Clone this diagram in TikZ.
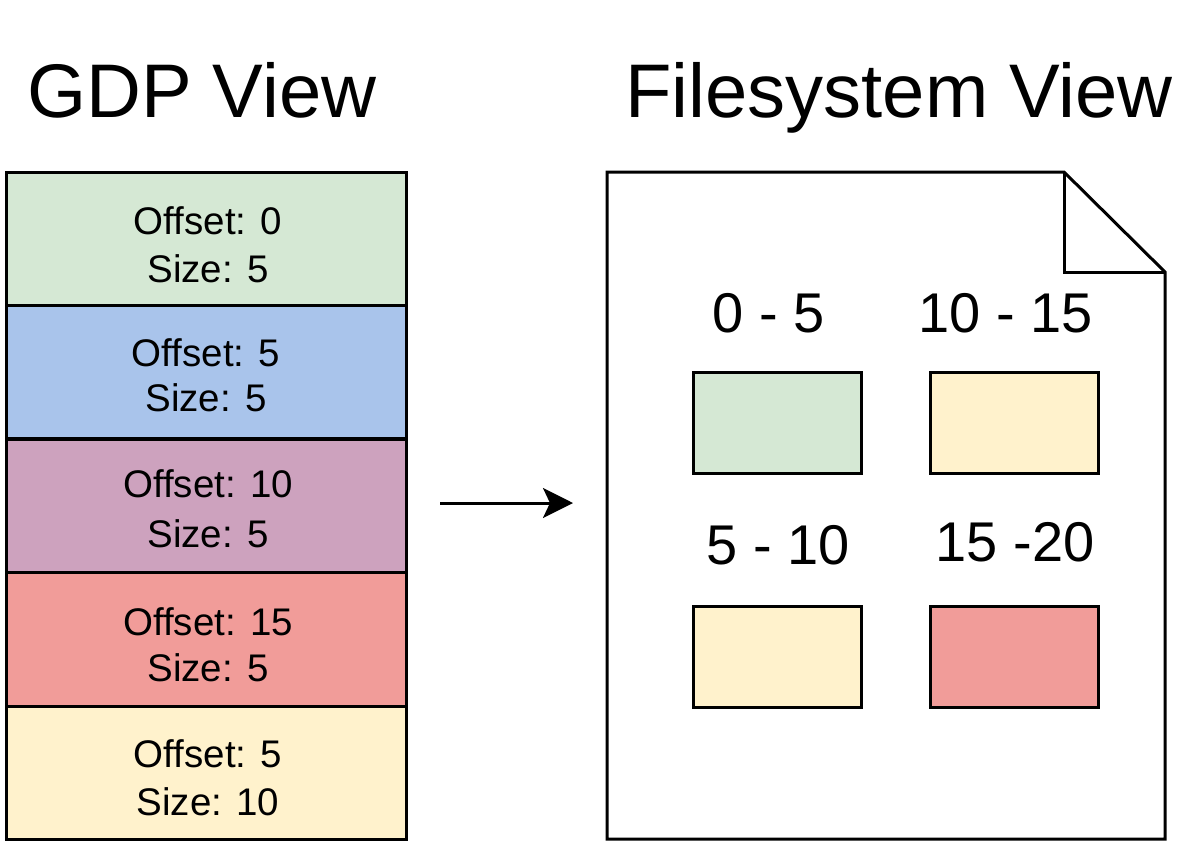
\documentclass[tikz,border=0pt]{standalone}
\usepackage{fontspec}
\setmainfont{Liberation Sans}
\usetikzlibrary{arrows.meta}
\definecolor{cgreen}{HTML}{D5E8D4}
\definecolor{cblue}{HTML}{A9C4EB}
\definecolor{cpurple}{HTML}{CDA2BE}
\definecolor{cred}{HTML}{F19C99}
\definecolor{cyellow}{HTML}{FFF2CC}
\tikzset{
  gdpbox/.style={draw=black, line width=3pt, minimum width=400pt, minimum height=133.5pt, inner sep=0pt, rectangle},
  gdptext/.style={align=center, inner sep=0pt, font=\fontsize{38.5}{48}\selectfont},
  chunk/.style={draw=black, line width=3pt, minimum width=168pt, minimum height=101pt, inner sep=0pt, rectangle},
  rangelabel/.style={inner sep=0pt, font=\fontsize{56}{66}\selectfont},
  title/.style={inner sep=0pt, anchor=base west, font=\fontsize{76}{90}\selectfont},
  docline/.style={draw=black, line width=3pt, line join=miter},
  flow/.style={draw=black, line width=3pt, -{Stealth[length=30pt, width=30pt, inset=7pt]}}
}
\begin{document}
\begin{tikzpicture}[x=1pt, y=-1pt]
\useasboundingbox (0,0) rectangle (1200,846);
\fill[white] (0,0) rectangle (1200,846);

% titles
\node[title] (tgdp) at (27,117) {GDP View};
\node[title] (tfs) at (625,117) {Filesystem View};

% GDP stack
\node[gdpbox, fill=cgreen]  (r1) at (206,238.8) {};
\node[gdpbox, fill=cblue]   (r2) at (206,372.2) {};
\node[gdpbox, fill=cpurple] (r3) at (206,505.8) {};
\node[gdpbox, fill=cred]    (r4) at (206,639.3) {};
\node[gdpbox, fill=cyellow] (r5) at (206,772.8) {};

\node[gdptext] (t1) at (208,245) {Offset: 0\\Size: 5};
\node[gdptext, font=\fontsize{38.5}{45}\selectfont] (t2) at (206,375.5) {Offset: 5\\Size: 5};
\node[gdptext, font=\fontsize{38.5}{50}\selectfont] (t3) at (208,508.5) {Offset: 10\\Size: 5};
\node[gdptext, font=\fontsize{38.5}{46}\selectfont] (t4) at (208,645) {Offset: 15\\Size: 5};
\node[gdptext] (t5) at (208,778) {Offset: 5\\Size: 10};

% arrow
\coordinate (a1) at (440,503);
\coordinate (a2) at (573,503);
\draw[flow] (a1) -- (a2);

% document
\coordinate (d1) at (607,172);
\coordinate (d2) at (1064,172);
\coordinate (d3) at (1165,272);
\coordinate (d4) at (1165,839);
\coordinate (d5) at (607,839);
\coordinate (f1) at (1064,272);
\path[docline, fill=white] (d1) -- (d2) -- (d3) -- (d4) -- (d5) -- cycle;
\path[docline] (d2) -- (f1) -- (d3);

% chunks
\node[chunk, fill=cgreen]  (c1) at (777,422.5) {};
\node[chunk, fill=cyellow] (c2) at (1014,422.5) {};
\node[chunk, fill=cyellow] (c3) at (777.5,657) {};
\node[chunk, fill=cred]    (c4) at (1014.5,657) {};

\node[rangelabel] (l1) at (769,313) {0 - 5};
\node[rangelabel] (l2) at (1006,313) {10 - 15};
\node[rangelabel] (l3) at (778,545) {5 - 10};
\node[rangelabel] (l4) at (1015,542) {15 -20};
\end{tikzpicture}
\end{document}
